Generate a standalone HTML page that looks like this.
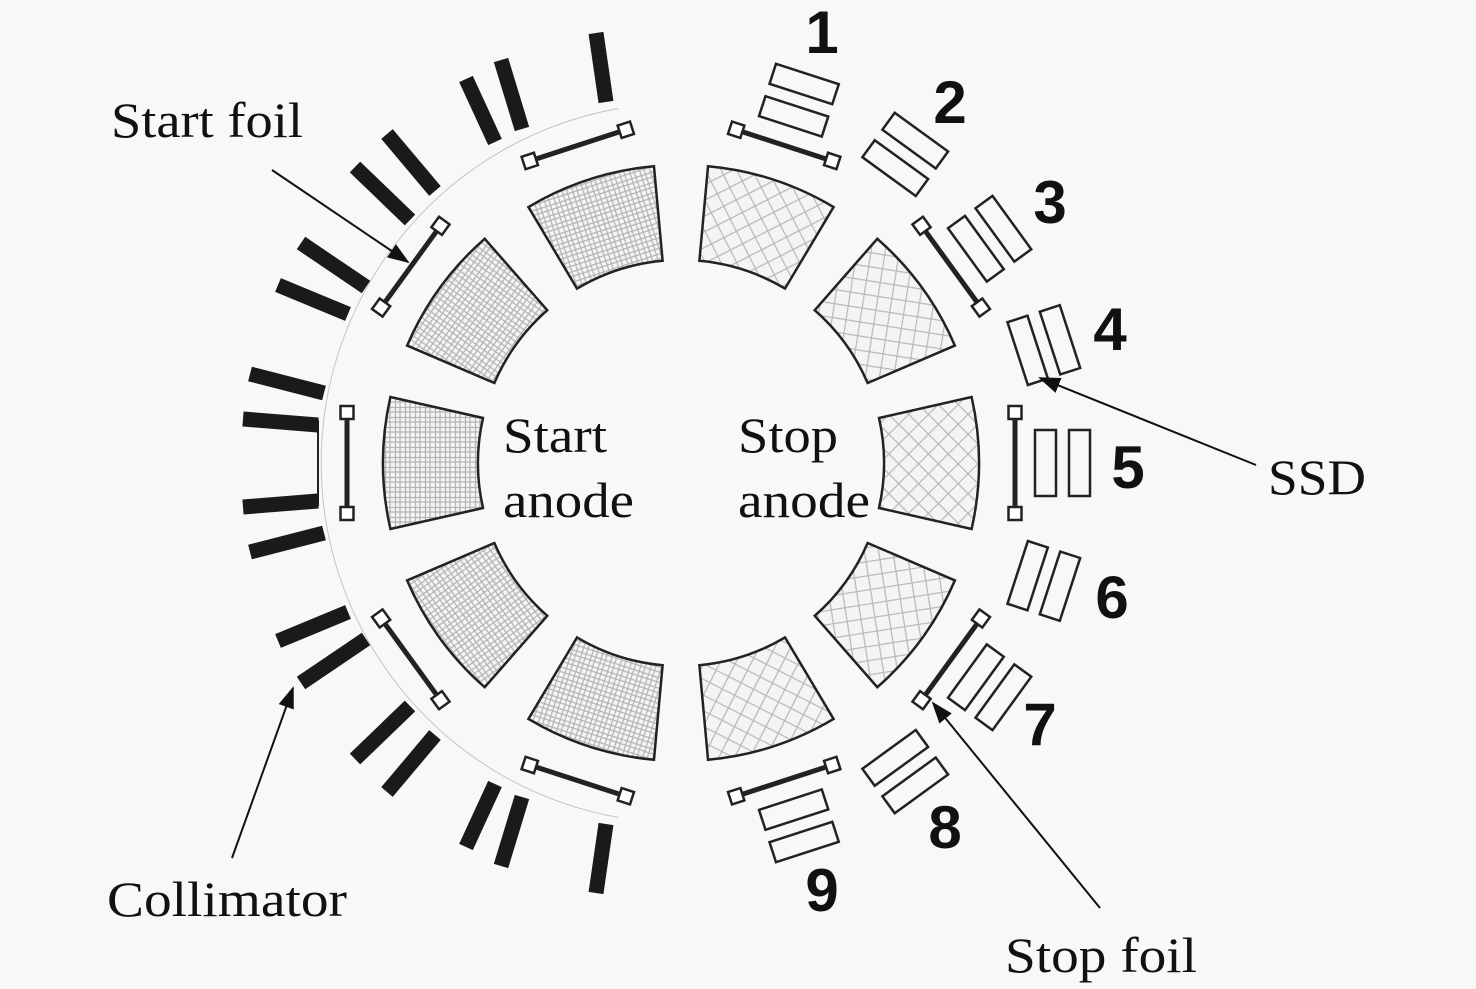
<!DOCTYPE html>
<html><head><meta charset="utf-8"><style>
html,body{margin:0;padding:0;background:#f8f8f8;}
svg{display:block;}
.serif{font-family:"Liberation Serif",serif;fill:#111;}
.num{font-family:"Liberation Sans",sans-serif;font-weight:bold;fill:#111;font-size:60px;text-anchor:middle;}
</style></head><body>
<svg width="1476" height="989" viewBox="0 0 1476 989" xmlns="http://www.w3.org/2000/svg">
<defs>
<pattern id="grid" width="10" height="10" patternUnits="userSpaceOnUse">
<rect width="10" height="10" fill="#f6f6f6"/>
<path d="M0 1H10M1 0V10M0 5.5H10M5.5 0V10" stroke="#b4b4b4" stroke-width="1.3" fill="none"/>
</pattern>
<pattern id="diam" width="14" height="14" patternUnits="userSpaceOnUse" patternTransform="rotate(45)">
<rect width="14" height="14" fill="#f4f4f4"/>
<path d="M0 0.5H14M0.5 0V14" stroke="#b8b8b8" stroke-width="1.4" fill="none"/>
</pattern>
<marker id="ah2" markerWidth="22" markerHeight="16" refX="20" refY="8" orient="auto" markerUnits="userSpaceOnUse">
<path d="M0,0 L22,8 L0,16 Z" fill="#111"/>
</marker>
<g id="seg"><path d="M198,-45 L290.6,-66 A298,298 0 0 1 290.6,66 L198,45 A203,203 0 0 0 198,-45 Z" stroke="#222" stroke-width="2.5"/></g>
<g id="foil">
<line x1="334" y1="-44" x2="334" y2="44" stroke="#222" stroke-width="5"/>
<rect x="327.5" y="-57" width="13" height="13" fill="#fff" stroke="#222" stroke-width="2.5"/>
<rect x="327.5" y="44" width="13" height="13" fill="#fff" stroke="#222" stroke-width="2.5"/>
</g>
<g id="det" fill="none" stroke="#222" stroke-width="2.5">
<rect x="354" y="-33" width="21" height="66"/>
<rect x="388" y="-33" width="21" height="66"/>
</g>
</defs>

<path d="M618.5,108.5 A360,360 0 0 0 618.5,817.5" fill="none" stroke="#c4c4c4" stroke-width="1"/>
<line x1="318" y1="420" x2="318" y2="506" stroke="#222" stroke-width="2"/>

<g transform="translate(681,463)">
<g fill="url(#grid)">
<use href="#seg" transform="rotate(180)"/>
<use href="#seg" transform="rotate(-144)"/>
<use href="#seg" transform="rotate(-108)"/>
<use href="#seg" transform="rotate(144)"/>
<use href="#seg" transform="rotate(108)"/>
</g>
<g fill="url(#diam)">
<use href="#seg" transform="rotate(0)"/>
<use href="#seg" transform="rotate(-36)"/>
<use href="#seg" transform="rotate(-72)"/>
<use href="#seg" transform="rotate(36)"/>
<use href="#seg" transform="rotate(72)"/>
</g>
<use href="#foil" transform="rotate(180)"/>
<use href="#foil" transform="rotate(-144)"/>
<use href="#foil" transform="rotate(-108)"/>
<use href="#foil" transform="rotate(144)"/>
<use href="#foil" transform="rotate(108)"/>
<use href="#foil" transform="rotate(0)"/>
<use href="#foil" transform="rotate(-36)"/>
<use href="#foil" transform="rotate(-72)"/>
<use href="#foil" transform="rotate(36)"/>
<use href="#foil" transform="rotate(72)"/>
<use href="#det" transform="rotate(-72)"/>
<use href="#det" transform="rotate(-54)"/>
<use href="#det" transform="rotate(-36)"/>
<use href="#det" transform="rotate(-18)"/>
<use href="#det" transform="rotate(0)"/>
<use href="#det" transform="rotate(18)"/>
<use href="#det" transform="rotate(36)"/>
<use href="#det" transform="rotate(54)"/>
<use href="#det" transform="rotate(72)"/>
</g>

<g stroke="#1a1a1a" stroke-width="15" stroke-linecap="butt">
<line x1="596" y1="33" x2="606" y2="102"/>
<line x1="501" y1="60" x2="522" y2="129"/>
<line x1="466" y1="79" x2="495" y2="142"/>
<line x1="387" y1="134" x2="435" y2="191"/>
<line x1="355" y1="167" x2="410" y2="220"/>
<line x1="301" y1="243" x2="366" y2="287"/>
<line x1="278" y1="285" x2="348" y2="314"/>
<line x1="250" y1="374" x2="324" y2="393"/>
<line x1="243" y1="419" x2="318" y2="425"/>
<line x1="243" y1="507" x2="318" y2="501"/>
<line x1="250" y1="552" x2="324" y2="533"/>
<line x1="278" y1="641" x2="348" y2="612"/>
<line x1="301" y1="683" x2="366" y2="639"/>
<line x1="355" y1="759" x2="410" y2="706"/>
<line x1="387" y1="792" x2="435" y2="735"/>
<line x1="466" y1="847" x2="495" y2="784"/>
<line x1="501" y1="866" x2="522" y2="797"/>
<line x1="596" y1="893" x2="606" y2="824"/>
</g>

<g stroke="#111" stroke-width="2" fill="none">
<line x1="272" y1="170" x2="408" y2="262" marker-end="url(#ah2)"/>
<line x1="232" y1="858" x2="293" y2="688" marker-end="url(#ah2)"/>
<line x1="1256" y1="465" x2="1040" y2="378" marker-end="url(#ah2)"/>
<line x1="1100" y1="908" x2="933" y2="703" marker-end="url(#ah2)"/>
</g>

<text class="serif" x="111" y="137" font-size="50" textLength="192" lengthAdjust="spacingAndGlyphs">Start foil</text>
<text class="serif" x="107" y="916" font-size="50" textLength="240" lengthAdjust="spacingAndGlyphs">Collimator</text>
<text class="serif" x="1268" y="494" font-size="50" textLength="98" lengthAdjust="spacingAndGlyphs">SSD</text>
<text class="serif" x="1005" y="972" font-size="50" textLength="192" lengthAdjust="spacingAndGlyphs">Stop foil</text>
<text class="serif" x="503" y="452" font-size="50" textLength="104" lengthAdjust="spacingAndGlyphs">Start</text>
<text class="serif" x="503" y="517" font-size="50" textLength="131" lengthAdjust="spacingAndGlyphs">anode</text>
<text class="serif" x="738" y="452" font-size="50" textLength="100" lengthAdjust="spacingAndGlyphs">Stop</text>
<text class="serif" x="738" y="517" font-size="50" textLength="132" lengthAdjust="spacingAndGlyphs">anode</text>

<text class="num" x="822" y="53">1</text>
<text class="num" x="950" y="123">2</text>
<text class="num" x="1050" y="223">3</text>
<text class="num" x="1110" y="350">4</text>
<text class="num" x="1128" y="488">5</text>
<text class="num" x="1112" y="618">6</text>
<text class="num" x="1040" y="745">7</text>
<text class="num" x="945" y="848">8</text>
<text class="num" x="822" y="911">9</text>
</svg>
</body></html>
